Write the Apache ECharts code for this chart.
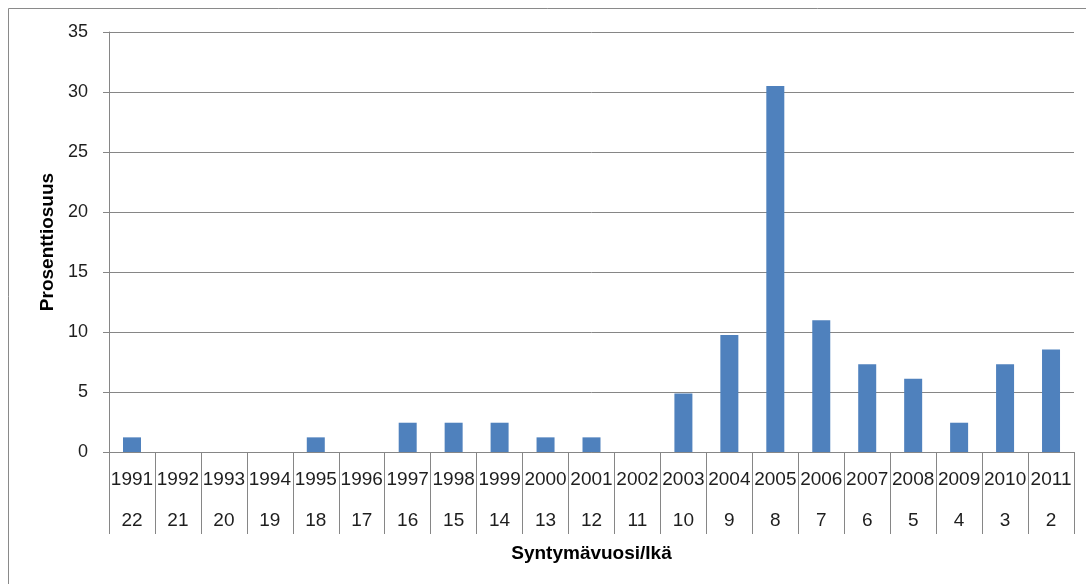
<!DOCTYPE html>
<html>
<head>
<meta charset="utf-8">
<script src="https://cdn.jsdelivr.net/npm/echarts@6/dist/echarts.min.js"></script>
<style>
  html, body { margin: 0; padding: 0; background: #ffffff; }
  #chart { width: 1086px; height: 584px; }
</style>
</head>
<body>
<div id="chart"></div>
<script>
// Birth years and the matching ages (two-row category axis)
const years = ['1991','1992','1993','1994','1995','1996','1997','1998','1999','2000','2001',
               '2002','2003','2004','2005','2006','2007','2008','2009','2010','2011'];
const ages = ['22','21','20','19','18','17','16','15','14','13','12',
              '11','10','9','8','7','6','5','4','3','2'];
// Share of respondents per birth year, percent
const shares = [1.22, 0, 0, 0, 1.22, 0, 2.44, 2.44, 2.44, 1.22, 1.22,
                0, 4.88, 9.76, 30.49, 10.98, 7.32, 6.10, 2.44, 7.32, 8.54];
const yTicks = [0, 5, 10, 15, 20, 25, 30, 35];

const font = 'Liberation Sans';
const chart = echarts.init(document.getElementById('chart'), null, { renderer: 'canvas' });

chart.setOption({
  animation: false,
  backgroundColor: '#ffffff',
  textStyle: { fontFamily: font },
  graphic: [{
    type: 'rect',
    shape: { x: 8.5, y: 8.5, width: 1100, height: 600 },
    style: { fill: 'none', stroke: '#8a8a8a', lineWidth: 1 },
    silent: true,
    z: -1
  }],
  grid: { left: 109, right: 12, top: 32, bottom: 132, containLabel: false },
  xAxis: {
    type: 'category',
    data: years,
    boundaryGap: true,
    name: 'Syntymävuosi/Ikä',
    nameLocation: 'middle',
    nameGap: 92,
    nameTextStyle: { fontFamily: font, fontSize: 19, fontWeight: 'bold', color: '#000000' },
    axisLine: { show: true, lineStyle: { color: '#868686', width: 1 } },
    axisTick: { show: true, interval: 0, alignWithLabel: false, length: 82,
                lineStyle: { color: '#868686', width: 1 } },
    axisLabel: {
      interval: 0,
      margin: 7,
      formatter: function (value, idx) {
        return '{y|' + value + '}\n{a|' + ages[idx] + '}';
      },
      rich: {
        y: { fontFamily: font, fontSize: 19, color: '#1e1e1e', lineHeight: 41 },
        a: { fontFamily: font, fontSize: 19, color: '#1e1e1e', lineHeight: 41 }
      }
    },
    splitLine: { show: false }
  },
  yAxis: {
    type: 'value',
    min: yTicks[0],
    max: yTicks[yTicks.length - 1],
    interval: 5,
    name: 'Prosenttiosuus',
    nameLocation: 'middle',
    nameRotate: 90,
    nameGap: 51,
    nameTextStyle: { fontFamily: font, fontSize: 19, fontWeight: 'bold', color: '#000000' },
    axisLine: { show: true, lineStyle: { color: '#868686', width: 1 } },
    axisTick: { show: true, inside: false, length: 6, lineStyle: { color: '#868686', width: 1 } },
    axisLabel: { fontFamily: font, fontSize: 18, color: '#1e1e1e', margin: 21 },
    splitLine: { show: true, lineStyle: { color: '#868686', width: 1 } }
  },
  series: [{
    type: 'bar',
    data: shares,
    barWidth: 18,
    itemStyle: { color: '#4F81BD' }
  }]
});
</script>
</body>
</html>
